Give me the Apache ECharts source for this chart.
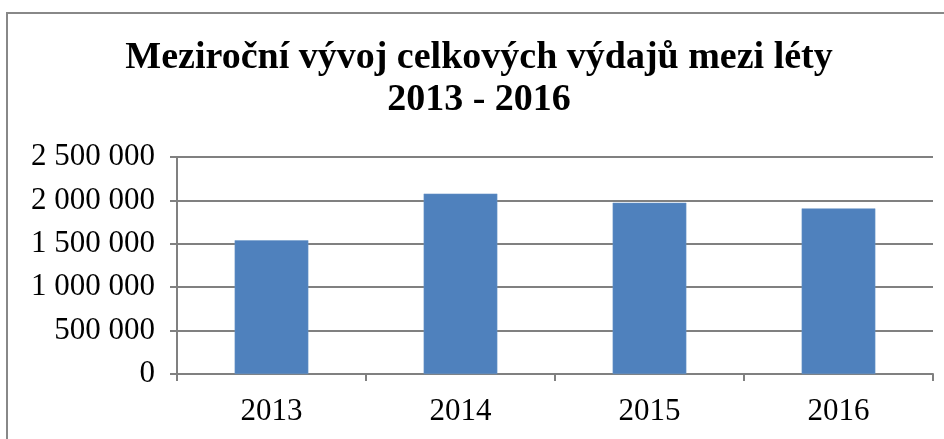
<!DOCTYPE html>
<html>
<head>
<meta charset="utf-8">
<script src="https://cdn.jsdelivr.net/npm/echarts@6/dist/echarts.min.js"></script>
<style>
  html, body { margin: 0; padding: 0; background: #fff; }
  #chart { width: 944px; height: 439px; }
</style>
</head>
<body>
<div id="chart"></div>
<script>
var years = ['2013', '2014', '2015', '2016'];
var expenses = [1540000, 2078000, 1973000, 1908000];
var titleLines = ['Meziroční vývoj celkových výdajů mezi léty', '2013 - 2016'];

var chart = echarts.init(document.getElementById('chart'));

function spaced(v) {
    return String(v).replace(/\B(?=(\d{3})+(?!\d))/g, ' ');
}

var option = {
    animation: false,
    backgroundColor: '#fff',
    title: {
        text: titleLines.join('\n'),
        left: 474,
        top: 32,
        textAlign: 'center',
        textStyle: {
            fontFamily: 'Liberation Serif',
            fontWeight: 'bold',
            fontSize: 38,
            lineHeight: 42,
            color: '#000'
        }
    },
    graphic: [{
        type: 'rect',
        shape: { x: 7, y: 13, width: 960, height: 460 },
        style: { fill: 'none', stroke: '#888', lineWidth: 2 },
        silent: true
    }],
    grid: {
        left: 177,
        right: 11,
        top: 157,
        bottom: 65
    },
    xAxis: {
        type: 'category',
        data: years,
        axisLine: { lineStyle: { color: '#808080', width: 2 } },
        axisTick: { show: true, length: 7, lineStyle: { color: '#808080', width: 2 } },
        axisLabel: {
            margin: 22,
            fontFamily: 'Liberation Serif',
            fontSize: 31,
            color: '#000'
        }
    },
    yAxis: {
        type: 'value',
        min: 0,
        max: 2500000,
        interval: 500000,
        axisLine: { show: true, lineStyle: { color: '#808080', width: 2 } },
        axisTick: { show: true, length: 7, lineStyle: { color: '#808080', width: 2 } },
        splitLine: { lineStyle: { color: '#808080', width: 2 } },
        axisLabel: {
            margin: 22,
            fontFamily: 'Liberation Serif',
            fontSize: 31,
            color: '#000',
            formatter: spaced
        }
    },
    series: [{
        type: 'bar',
        data: expenses,
        barWidth: '39%',
        itemStyle: {
            color: '#4F81BD',
            borderColor: '#6b96c8',
            borderWidth: 0.5
        }
    }]
};

chart.setOption(option);
</script>
</body>
</html>
